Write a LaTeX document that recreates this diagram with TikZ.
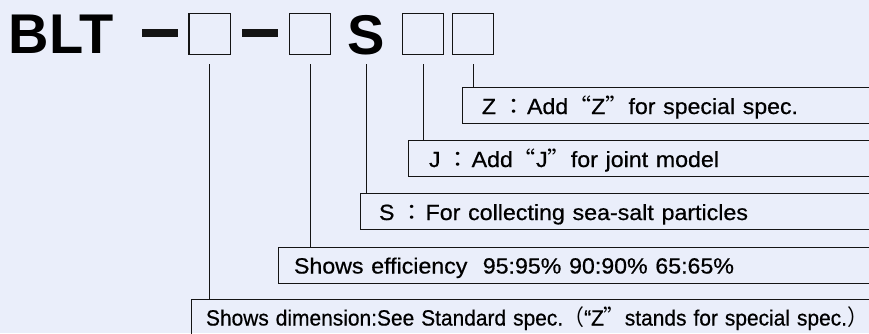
\documentclass[tikz,border=0pt]{standalone}
\usepackage{graphicx}
\usepackage{fontspec}
\setmainfont{Liberation Sans}
\newfontfamily\descfont{Liberation Sans}[FakeBold=0.6]
\newfontfamily\cjk{Noto Sans CJK JP}[RawFeature=+fwid]
\definecolor{bg}{RGB}{234,238,250}
\definecolor{ink}{RGB}{20,20,20}
\newcommand{\dtext}[2]{\resizebox{#1}{\height}{#2}}
\newcommand{\fwcolon}{\hspace{6pt}{\cjk ：}\hspace{1.5pt}}
\begin{document}
\begin{tikzpicture}[x=1pt,y=-1pt,
  titlebox/.style={draw=ink, line width=1.3pt, minimum width=41.3pt, minimum height=41pt, inner sep=0pt},
  dashbar/.style={fill=ink, minimum width=36pt, minimum height=7.4pt, inner sep=0pt},
  titletext/.style={font=\fontsize{56}{60}\selectfont\bfseries, inner sep=0pt, text=black},
  descbox/.style={draw=ink, line width=1pt, anchor=north west, minimum height=36pt, inner xsep=16pt, inner ysep=0pt, text height=17pt, text depth=0pt, align=left, font=\fontsize{22}{24}\descfont, text=black},
  conn/.style={draw=ink, line width=1pt}]
\fill[bg] (0,0) rectangle (869,333);
\useasboundingbox (0,0) rectangle (869,333);
\clip (0,0) rectangle (869,333);
% title
\node[titletext, anchor=base west] (blt) at (8.5,53.3) {BLT};
\node[dashbar] (d1) at (160,33) {};
\node[titlebox] (b1) at (209.7,33.8) {};
\node[dashbar] (d2) at (260,33) {};
\node[titlebox] (b2) at (310,33.8) {};
\node[titletext, anchor=base] (s) at (366.5,54) {S};
\node[titlebox] (b3) at (423,33.8) {};
\node[titlebox] (b4) at (473,33.8) {};
% description boxes
\node[descbox, inner xsep=19.5pt, text width=420pt] (dz) at (462,87)
  {\dtext{316pt}{Z\fwcolon Add{\cjk “}Z{\cjk ”}for special spec.}};
\node[descbox, inner xsep=20.5pt, text width=470pt] (dj) at (408,140)
  {\dtext{290pt}{J\fwcolon Add{\cjk “}J{\cjk ”}for joint model}};
\node[descbox, inner xsep=18.5pt, text width=520pt] (ds) at (360,193)
  {\dtext{369pt}{S\fwcolon For collecting sea-salt particles}};
\node[descbox, inner xsep=15.5pt, text width=600pt] (de) at (278,246.5)
  {\dtext{440pt}{Shows efficiency\ \ 95:95\% 90:90\% 65:65\%}};
\node[descbox, inner xsep=14.5pt, text width=690pt] (dd) at (191,298.5)
  {\dtext{662pt}{Shows dimension:See Standard spec.{\cjk （}“Z{\cjk ”}stands for special spec.{\cjk ）}}};
% connectors
\coordinate (c1) at (b1 |- 0,64);
\coordinate (c2) at (b2 |- 0,64);
\coordinate (c3) at (s |- 0,64);
\coordinate (c4) at (b3 |- 0,64);
\coordinate (c5) at (b4 |- 0,64);
\draw[conn] (c1) -- (dd.north -| c1);
\draw[conn] (c2) -- (de.north -| c2);
\draw[conn] (c3) -- (ds.north -| c3);
\draw[conn] (c4) -- (dj.north -| c4);
\draw[conn] (c5) -- (dz.north -| c5);
\end{tikzpicture}
\end{document}
